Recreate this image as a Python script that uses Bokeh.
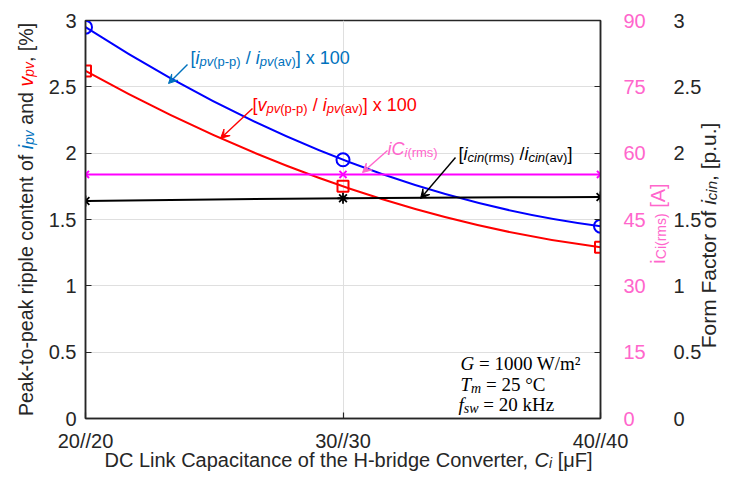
import numpy as np
from bokeh.plotting import figure
from bokeh.layouts import column, row
from bokeh.models import (Range1d, LinearAxis, FixedTicker, NumeralTickFormatter,
                          Label, Arrow, VeeHead)
from bokeh.embed import file_html
from bokeh.resources import INLINE

# ---------------- data ----------------
cap = [20, 30, 40]
cap_labels = ["20//20", "30//30", "40//40"]
ipv_ripple = [2.95, 1.95, 1.45]      # [%]
vpv_ripple = [2.62, 1.75, 1.29]      # [%]
form_factor = [1.64, 1.66, 1.67]     # [p.u.]
ici_rms = [55.2, 55.2, 55.2]         # [A]
left_ticks = [0, 0.5, 1, 1.5, 2, 2.5, 3]
amp_ticks = [0, 15, 30, 45, 60, 75, 90]

BLUE_T = "#0072BD"
PINK = "#FF66CC"
DARK = "#262626"
RED = "#FF0000"
K = "#000000"
SANS = "Liberation Sans"
SERIF = "Liberation Serif"

W, H = 721, 473
FX0, FX1, FY0, FY1 = 85, 600, 20, 418   # frame in canvas px (for annotation placement)
BL, BT, BR, BB = FX0, FY0, W - FX1, H - FY1
SHIFT = 8   # observed offset of the overlay canvases

p = figure(width=W, height=H, output_backend="svg", toolbar_location=None,
           x_range=Range1d(20, 40), y_range=Range1d(0, 3),
           min_border_left=BL, min_border_right=BR, min_border_top=BT,
           min_border_bottom=BB)
p.extra_y_ranges = {"amps": Range1d(0, 90)}
p.outline_line_color = DARK
p.outline_line_width = 1.5
p.background_fill_color = "white"
p.border_fill_color = "white"


def overlay(xr, yr, borders, margin):
    f = figure(width=W, height=H, output_backend="svg", toolbar_location=None,
               x_range=xr, y_range=yr, x_axis_type=None, y_axis_type=None,
               min_border_left=borders[0], min_border_top=borders[1],
               min_border_right=borders[2], min_border_bottom=borders[3],
               margin=margin)
    f.outline_line_color = None
    f.background_fill_alpha = 0
    f.border_fill_alpha = 0
    f.grid.visible = False
    return f


# transparent overlays (page px coordinates) carrying the axis titles
ov_v = overlay(Range1d(SHIFT, W + SHIFT), Range1d(FY1, FY0), (0, BT, 0, BB), (0, 0, 0, -W))
ov_h = overlay(Range1d(FX0, FX1), Range1d(H + SHIFT, SHIFT), (BL, 0, BR, 0), (-H, 0, 0, 0))


def dx(X):
    return 20 + (X - FX0) * 20 / (FX1 - FX0)


def dy(Y):
    return (FY1 - Y) * 3 / (FY1 - FY0)


# ---------------- axes ----------------
def style_axis(ax, color=DARK, size="20px"):
    ax.major_label_text_font = SANS
    ax.major_label_text_font_size = size
    ax.major_label_text_color = color
    ax.minor_tick_line_color = None
    ax.major_tick_out = 0
    ax.major_tick_in = 6
    ax.major_tick_line_color = DARK
    ax.major_tick_line_width = 1.2
    ax.axis_line_color = DARK
    ax.axis_line_width = 1.5


xa = p.xaxis[0]
xa.ticker = FixedTicker(ticks=cap)
xa.major_label_overrides = dict(zip(cap, cap_labels))
style_axis(xa)
xa.major_label_standoff = 11

ya = p.yaxis[0]
ya.ticker = FixedTicker(ticks=left_ticks)
ya.formatter = NumeralTickFormatter(format="0.[0]")
style_axis(ya)
ya.major_label_standoff = 9

pax = LinearAxis(y_range_name="amps", ticker=FixedTicker(ticks=amp_ticks))
style_axis(pax, color=PINK)
pax.major_label_standoff = 23
p.add_layout(pax, "right")

fax = LinearAxis(ticker=FixedTicker(ticks=left_ticks),
                 formatter=NumeralTickFormatter(format="0.[0]"))
style_axis(fax)
fax.axis_line_color = None
fax.major_tick_line_color = None
fax.major_label_standoff = 25
p.add_layout(fax, "right")

p.xgrid.ticker = FixedTicker(ticks=cap)
p.ygrid.ticker = FixedTicker(ticks=left_ticks)
p.grid.grid_line_color = "#DFDFDF"
p.grid.grid_line_width = 1


# ---------------- curves ----------------
def ctrl(v):
    return 2 * v[1] - (v[0] + v[2]) / 2


for ys, col in [(ipv_ripple, "#0000FF"), (vpv_ripple, "#FF0000"),
                (form_factor, "#000000")]:
    p.quadratic(x0=cap[0], y0=ys[0], x1=cap[2], y1=ys[2], cx=ctrl(cap), cy=ctrl(ys),
                line_color=col, line_width=2)
p.line(cap, ici_rms, y_range_name="amps", line_color="#FF00FF", line_width=2)

p.scatter(cap, ipv_ripple, marker="circle", size=13, fill_color=None,
          line_color="#0000FF", line_width=2)
p.scatter(cap, vpv_ripple, marker="square", size=11, fill_color=None,
          line_color="#FF0000", line_width=2)
p.scatter(cap, form_factor, marker="asterisk", size=11, line_color="#000000",
          line_width=1.8)
p.scatter(cap, ici_rms, y_range_name="amps", marker="x", size=10,
          line_color="#FF00FF", line_width=2)

# ---------------- rich text helpers ----------------
W_SANS = {' ': 278, '%': 889, '(': 333, ')': 333, ',': 278, '-': 333, '.': 278,
          '/': 278, 'A': 667, 'C': 722, 'D': 722, 'F': 611, 'H': 722, 'L': 556,
          'P': 667, '[': 278, ']': 278, 'a': 556, 'b': 556, 'c': 500, 'd': 556,
          'e': 556, 'f': 278, 'g': 556, 'h': 556, 'i': 222, 'k': 500, 'l': 222,
          'm': 833, 'n': 556, 'o': 556, 'p': 556, 'r': 333, 's': 500, 't': 278,
          'u': 556, 'v': 500, 'w': 722, 'x': 500, 'y': 500, 'μ': 576, '°': 400}
W_SERIF = {' ': 250, '=': 564, '/': 278, 'W': 944, 'm': 778, '°': 400, 'C': 667,
           'k': 500, 'H': 722, 'z': 444, '²': 300, 'G': 722, 'T': 611, 'f': 333,
           's': 389, 'w': 722}
W_SERIF_IT = {'G': 722, 'T': 556, 'm': 722, 'f': 278, 's': 389, 'w': 667}


def tw(s, size, fam, it):
    tot = 0
    for c in s:
        if c.isdigit():
            tot += 556 if fam == SANS else 500
        elif fam == SANS:
            tot += W_SANS.get(c, 556)
        else:
            tot += (W_SERIF_IT[c] if it and c in W_SERIF_IT else W_SERIF.get(c, 500))
    return tot * size / 1000


def rich(fig, x, y, runs, angle=0, fam=SANS, center=False):
    total = sum(tw(t, sz, fam, it) for t, sz, it, col, sh in runs)
    pos = -total / 2 if center else 0
    for t, sz, it, col, sh in runs:
        lead = len(t) - len(t.lstrip(" "))
        pos += tw(" " * lead, sz, fam, it)
        txt = t.strip(" ")
        if angle == 0:
            xo, yo = pos, -sh
        else:
            xo, yo = sh, pos
        fig.add_layout(Label(x=x, y=y, x_offset=xo, y_offset=yo, text=txt, angle=angle,
                             angle_units="deg", text_font=fam,
                             text_font_size=f"{sz}px",
                             text_font_style="italic" if it else "normal",
                             text_color=col, text_align="left",
                             text_baseline="alphabetic"))
        pos += tw(t.lstrip(" "), sz, fam, it)


def arrow(x0, y0, x1, y1, col):
    p.add_layout(Arrow(x_start=dx(x0), y_start=dy(y0), x_end=dx(x1), y_end=dy(y1),
                       line_color=col, line_width=1.4,
                       end=VeeHead(size=9, fill_color=col, line_color=col)))


M, S, SH = 18, 13, 4
# blue annotation
rich(p, dx(190), dy(57), [("[", M, False, BLUE_T, 0), ("i", M, True, BLUE_T, 0),
                          ("pv", S, True, BLUE_T, SH), ("(p-p)", S, False, BLUE_T, SH),
                          (" / ", M, False, BLUE_T, 0), ("i", M, True, BLUE_T, 0),
                          ("pv", S, True, BLUE_T, SH), ("(av)", S, False, BLUE_T, SH),
                          ("] x 100", M, False, BLUE_T, 0)])
arrow(187, 64, 168, 83, BLUE_T)
# red annotation
rich(p, dx(252), dy(104), [("[", M, False, RED, 0), ("v", M, True, RED, 0),
                           ("pv", S, True, RED, SH), ("(p-p)", S, False, RED, SH),
                           (" / ", M, False, RED, 0), ("i", M, True, RED, 0),
                           ("pv", S, True, RED, SH), ("(av)", S, False, RED, SH),
                           ("] x 100", M, False, RED, 0)])
arrow(252, 108, 220, 138, RED)
# pink annotation
rich(p, dx(387), dy(148), [("iC", M, True, PINK, 0), ("i", S, True, PINK, SH),
                           ("(rms)", S, False, PINK, SH)])
arrow(387, 150, 362, 172, PINK)
# black annotation
rich(p, dx(458), dy(153), [("[", M, False, K, 0), ("i", M, True, K, 0),
                           ("cin", S, True, K, SH), ("(rms)", S, False, K, SH),
                           (" /", M, False, K, 0), ("i", M, True, K, 0),
                           ("cin", S, True, K, SH), ("(av)", S, False, K, SH),
                           ("]", M, False, K, 0)])
arrow(455, 157, 420, 198, K)

# operating conditions box
TS, TSS = 19, 14
rich(p, dx(460), dy(363), [("G", TS, True, K, 0), (" = 1000 W/m²", TS, False, K, 0)],
     fam=SERIF)
rich(p, dx(460), dy(384), [("T", TS, True, K, 0), ("m", TSS, True, K, 4),
                           (" = 25 °C", TS, False, K, 0)], fam=SERIF)
rich(p, dx(458), dy(404), [("f", TS, True, K, 0), ("sw", TSS, True, K, 4),
                           (" = 20 kHz", TS, False, K, 0)], fam=SERIF)

# ---------------- axis titles (overlays, page px) ----------------
A, AS = 19.6, 13.9
rich(ov_v, 33, 219, [("Peak-to-peak ripple content of ", A, False, DARK, 0),
                     ("i", A, True, BLUE_T, 0), ("pv", AS, True, BLUE_T, 3),
                     (" and ", A, False, DARK, 0),
                     ("v", A, True, RED, 0), ("pv", AS, True, RED, 3),
                     (", [%]", A, False, DARK, 0)], angle=90, center=True)
rich(ov_v, 665, 223, [("i", 20, False, PINK, 0), ("Ci(rms)", 14, False, PINK, 3),
                      (" [A]", 20, False, PINK, 0)], angle=90, center=True)
rich(ov_v, 716, 235, [("Form Factor of ", 21, False, DARK, 0), ("i", 21, True, DARK, 0),
                      ("cin", 15, True, DARK, 3), (", [p.u.]", 21, False, DARK, 0)],
     angle=90, center=True)
rich(ov_h, 348, 467, [("DC Link Capacitance of the H-bridge Converter, ", 20, False, DARK, 0),
                      ("C", 20, True, DARK, 0), ("i", 14, True, DARK, 3),
                      (" [μF]", 20, False, DARK, 0)], center=True)

layout = column(row(p, ov_v, spacing=0), ov_h, spacing=0)
open("out.html", "w").write(file_html(layout, INLINE))
